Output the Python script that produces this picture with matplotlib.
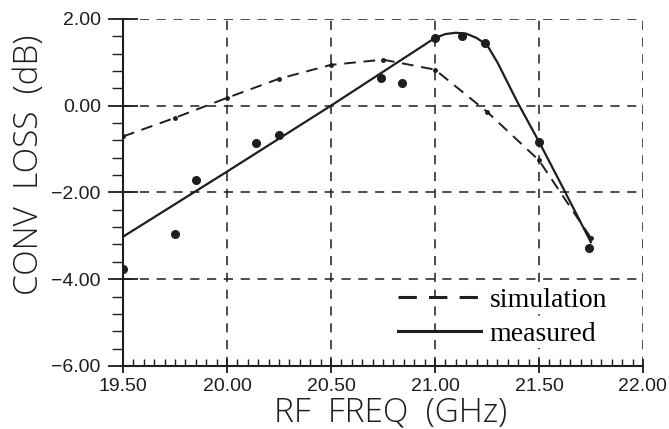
import matplotlib
matplotlib.use("Agg")
import matplotlib.pyplot as plt
from matplotlib.ticker import MultipleLocator

plt.rcParams['axes.unicode_minus'] = True
plt.rcParams['font.family'] = ['Liberation Sans', 'DejaVu Sans']

# simulated conversion loss (dashed)
sim_freq = [19.50, 19.75, 20.00, 20.25, 20.50, 20.75, 21.00, 21.25, 21.50, 21.75]
sim_loss = [-0.71, -0.28, 0.18, 0.62, 0.94, 1.06, 0.83, -0.14, -1.26, -3.05]

# measured points
meas_freq = [19.50, 19.75, 19.85, 20.14, 20.25, 20.74, 20.84, 21.00, 21.13, 21.24, 21.50, 21.74]
meas_loss = [-3.77, -2.97, -1.72, -0.87, -0.67, 0.64, 0.53, 1.56, 1.61, 1.45, -0.83, -3.29]

# measured curve (solid)
fit_freq = [19.50, 20.00, 20.50, 21.00, 21.05, 21.10, 21.15, 21.20, 21.25, 21.30, 21.40, 21.50, 21.60, 21.75]
fit_loss = [-3.02, -1.52, 0.00, 1.56, 1.65, 1.68, 1.66, 1.56, 1.40, 1.00, 0.05, -0.83, -1.75, -3.15]

ink = '#1e1e1e'
label_font = {'family': ['Open Sans', 'DejaVu Sans'], 'weight': 'light', 'size': 24}

fig = plt.figure(figsize=(6.69, 4.29), dpi=100)
ax = fig.add_axes([0.184, 0.147, 0.777, 0.809])

ax.plot(sim_freq, sim_loss, color=ink, lw=1.4, ls=(0, (6, 4)), marker='o', ms=2.5,
        label='simulation')
ax.plot(fit_freq, fit_loss, color=ink, lw=1.6, label='measured')
ax.plot(meas_freq, meas_loss, 'o', color=ink, ms=5.5, zorder=4)

ax.set_xlim(19.5, 22.0)
ax.set_ylim(-6.0, 2.0)
ax.xaxis.set_major_locator(MultipleLocator(0.5))
ax.xaxis.set_minor_locator(MultipleLocator(0.05))
ax.yaxis.set_major_locator(MultipleLocator(2.0))
ax.yaxis.set_minor_locator(MultipleLocator(0.4))
ax.xaxis.set_major_formatter(lambda v, p: f"{v:.2f}")
ax.yaxis.set_major_formatter(lambda v, p: f"{v:.2f}".replace('-', '\u2212'))

ax.grid(True, which='major', color=ink, ls=(0, (6, 5)), lw=1.1)
for s in ['top', 'right']:
    ax.spines[s].set_visible(False)
for s in ['left', 'bottom']:
    ax.spines[s].set_linewidth(1.5)
    ax.spines[s].set_color(ink)

ax.tick_params(axis='x', which='major', direction='inout', length=10, width=1.3,
               labelsize=14, colors=ink, pad=4)
ax.tick_params(axis='x', which='minor', direction='in', length=5, width=1.0, colors=ink)
ax.tick_params(axis='y', which='major', direction='inout', length=22, width=1.3,
               labelsize=14, colors=ink, pad=5)
ax.tick_params(axis='y', which='minor', direction='out', length=8, width=1.0, colors=ink)

ax.set_xlabel('RF  FREQ  (GHz)', fontdict=label_font, color=ink)
ax.set_ylabel('CONV  LOSS  (dB)', fontdict=label_font, color=ink)
ax.xaxis.set_label_coords(0.515, -0.088)
ax.yaxis.set_label_coords(-0.148, 0.58)

leg = ax.legend(loc='lower right', bbox_to_anchor=(0.958, 0.015), frameon=False,
                prop={'family': 'Liberation Serif', 'size': 20}, handlelength=3.0,
                handletextpad=0.3, borderpad=0.0, labelspacing=0.3)
for h in leg.get_lines():
    h.set_marker('')
    h.set_linewidth(2.2)
for t in leg.get_texts():
    t.set_bbox(dict(facecolor='white', edgecolor='none', pad=1))

fig.savefig('out.png', dpi=100)
